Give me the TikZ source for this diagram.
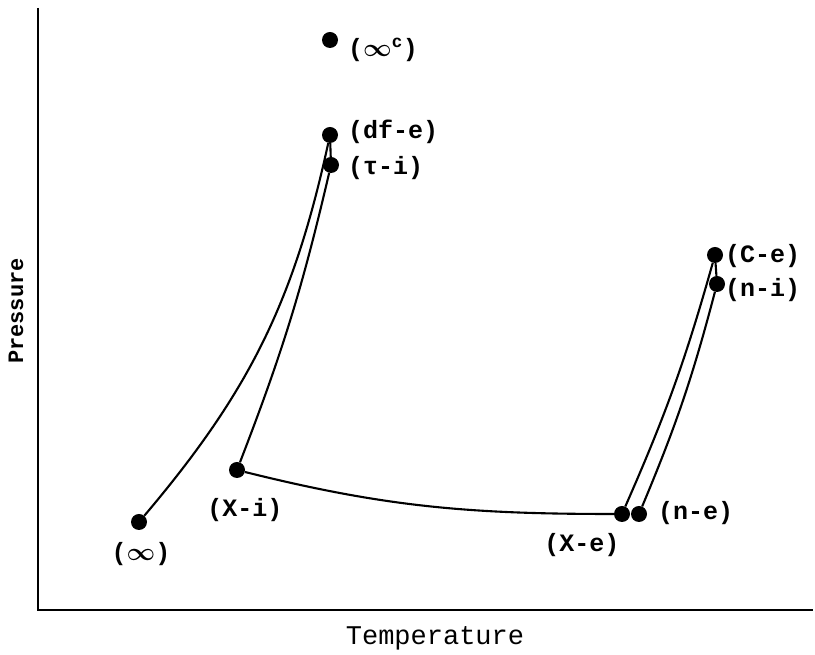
\documentclass[tikz,border=0pt]{standalone}
\usepackage{amsmath}
\usepackage{fontspec}
\setmonofont{Liberation Mono}
\usetikzlibrary{positioning}
\tikzset{
  statept/.style={circle, fill=black, inner sep=0pt, minimum size=16pt},
  statelbl/.style={font=\fontsize{25}{29}\selectfont\ttfamily\bfseries, inner sep=0pt},
  process/.style={line width=2.1pt},
}

\begin{document}
\begin{tikzpicture}[x=1pt, y=1pt]
    \useasboundingbox (0,0) rectangle (815,655);
    % Axes
    \draw[line width=2.4pt] (38,647) -- (38,45) -- (813,45);
    \node[font=\fontsize{22}{25}\selectfont\ttfamily\bfseries, rotate=90] (ptitle) at (16,344) {Pressure};
    \node[font=\fontsize{27}{31}\selectfont\ttfamily] (ttitle) at (435,17) {Temperature};
    % State points
    \foreach \n/\x/\y in {infc/330/615, dfe/330/520, taui/331/490, ce/715/400, ni/717/371,
                          xi/237/185, inf/139/133, xe/622/141, ne/639/141} {
        \node[statept] (\n) at (\x,\y) {};
    }
    % Point labels
    \node[statelbl, anchor=west] (linfc) at (348,605) {($\boldsymbol{\infty}$\textsuperscript{c})};
    \node[statelbl, anchor=west] (ldfe) at (348,523) {(df-e)};
    \node[statelbl, anchor=west] (ltaui) at (348,487) {(τ-i)};
    \node[statelbl, anchor=west] (lce) at (725,399) {(C-e)};
    \node[statelbl, anchor=west] (lni) at (725,365) {(n-i)};
    \node[statelbl] (lxi) at (245,145) {(X-i)};
    \node[statelbl] (linf) at (141,101) {($\boldsymbol{\infty}$)};
    \node[statelbl] (lxe) at (582,110) {(X-e)};
    \node[statelbl, anchor=west] (lne) at (658,142) {(n-e)};
    % Processes
    \draw[process] (inf) to[bend right=14] (dfe);
    \draw[process] (dfe) -- (taui);
    \draw[process] (xi) to[bend right=4] (taui);
    \draw[process] (xi) to[out=-14, in=180] (xe);
    \draw[process] (xe) to[bend right=4] (ce);
    \draw[process] (ce) -- (ni);
    \draw[process] (ne) to[bend right=4] (ni);
\end{tikzpicture}
\end{document}
